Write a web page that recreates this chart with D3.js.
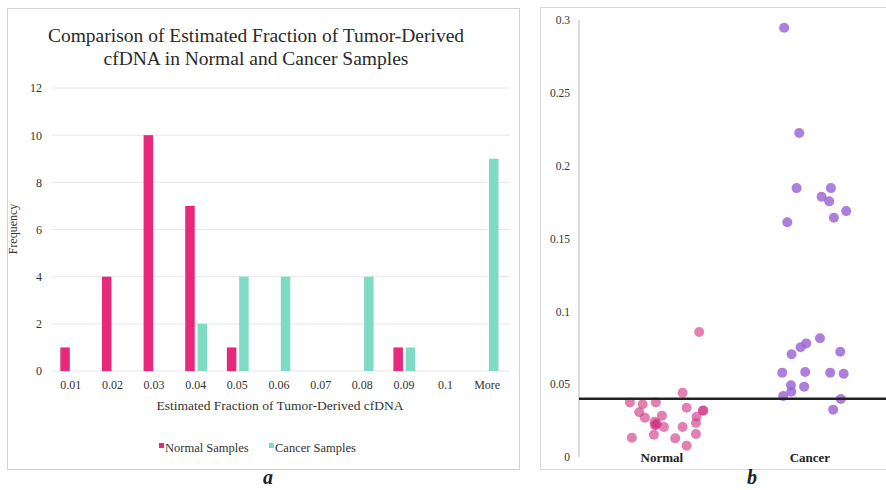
<!DOCTYPE html>
<html><head><meta charset="utf-8">
<script src="https://cdn.jsdelivr.net/npm/d3@7"></script>
<style>body{margin:0;background:#fff}svg{display:block}text{font-family:"Liberation Serif","Times New Roman",serif}</style>
</head><body><svg id="c" width="886" height="490"></svg>
<script>
// ---- Panel a data ----
const bins = ["0.01","0.02","0.03","0.04","0.05","0.06","0.07","0.08","0.09","0.1","More"];
const normalFreq = [1,4,10,7,1,0,0,0,1,0,0];
const cancerFreq = [0,0,0,2,4,4,0,4,1,0,9];
const freqTicks = [0,2,4,6,8,10,12];
const seriesNames = ["Normal Samples","Cancer Samples"];
const barColors = ["#e8287a","#7fdcc4"];

// ---- Panel b data ----
const groups = ["Normal","Cancer"];
const normalValues = [0.0858,0.0441,0.0375,0.0362,0.0375,0.0338,0.0307,0.0270,0.0284,0.0318,0.0320,0.0277,0.0242,0.0222,0.0230,0.0206,0.0206,0.0233,0.0132,0.0153,0.0128,0.0158,0.0078,0.0218];
const normalJitter = [0.252,0.140,-0.216,-0.130,-0.041,0.167,-0.153,-0.115,0.000,0.277,0.280,0.234,-0.049,-0.041,-0.034,0.014,0.140,0.230,-0.203,-0.054,0.090,0.230,0.167,-0.047];
const cancerValues = [0.2947,0.2224,0.1846,0.1846,0.1787,0.1755,0.1688,0.1643,0.1611,0.0815,0.0780,0.0753,0.0705,0.0723,0.0579,0.0583,0.0579,0.0572,0.0492,0.0483,0.0448,0.0419,0.0398,0.0325];
const cancerJitter = [-0.174,-0.072,-0.090,0.142,0.079,0.130,0.245,0.162,-0.153,0.068,-0.025,-0.063,-0.124,0.205,-0.187,-0.032,0.137,0.228,-0.128,-0.039,-0.126,-0.180,0.209,0.157];
const fracTicks = [0,0.05,0.1,0.15,0.2,0.25,0.3];
const thresholdValue = 0.04;

const SERIF = "Liberation Serif, Times New Roman, serif";
const svg = d3.select("#c");

// panel frames
svg.append("rect").attr("x",7.5).attr("y",8.5).attr("width",512).attr("height",461)
  .attr("fill","none").attr("stroke","#d2d2d2");
svg.append("rect").attr("x",540.5).attr("y",7.5).attr("width",350).attr("height",462)
  .attr("fill","none").attr("stroke","#d8d8d8");

// ===== Panel a =====
const ga = svg.append("g");
const x = d3.scaleBand().domain(bins).range([50,508]);
const y = d3.scaleLinear().domain([0,12]).range([371,88]);

ga.append("text").attr("x",256).attr("y",42).attr("text-anchor","middle")
  .attr("font-size",19.5).attr("fill","#2a2a2a").text("Comparison of Estimated Fraction of Tumor-Derived");
ga.append("text").attr("x",256).attr("y",65).attr("text-anchor","middle")
  .attr("font-size",19.5).attr("fill","#2a2a2a").text("cfDNA in Normal and Cancer Samples");

// gridlines
ga.append("g").selectAll("line").data(freqTicks).join("line")
  .attr("x1",52).attr("x2",510).attr("y1",d=>y(d)).attr("y2",d=>y(d))
  .attr("stroke","#e6e6e6").attr("stroke-width",1);

const yAx = ga.append("g").attr("transform","translate(46,0)")
  .call(d3.axisLeft(y).tickValues(freqTicks).tickSize(0).tickPadding(4));
yAx.select(".domain").remove();
yAx.selectAll("text").attr("font-family",SERIF).attr("font-size",12).attr("fill","#333");

const xAx = ga.append("g").attr("transform","translate(0,371)")
  .call(d3.axisBottom(x).tickSize(0).tickPadding(9));
xAx.select(".domain").remove();
xAx.selectAll("text").attr("font-family",SERIF).attr("font-size",12).attr("fill","#333");

const bw = 9.5;
ga.append("g").selectAll("rect").data(normalFreq).join("rect")
  .attr("x",(d,i)=>x(bins[i])+x.bandwidth()/2-bw-1).attr("width",bw)
  .attr("y",d=>y(d)).attr("height",d=>y(0)-y(d)).attr("fill",barColors[0]);
ga.append("g").selectAll("rect").data(cancerFreq).join("rect")
  .attr("x",(d,i)=>x(bins[i])+x.bandwidth()/2+1.8).attr("width",bw)
  .attr("y",d=>y(d)).attr("height",d=>y(0)-y(d)).attr("fill",barColors[1]);

ga.append("text").attr("x",280).attr("y",410).attr("text-anchor","middle")
  .attr("font-size",13.5).attr("fill","#333").text("Estimated Fraction of Tumor-Derived cfDNA");
ga.append("text").attr("transform","translate(17,229) rotate(-90)").attr("text-anchor","middle")
  .attr("font-size",12).attr("fill","#333").text("Frequency");

// legend
const legX = [159,269];
seriesNames.forEach((n,i)=>{
  ga.append("rect").attr("x",legX[i]).attr("y",443).attr("width",5).attr("height",5).attr("fill",barColors[i]);
  ga.append("text").attr("x",legX[i]+6).attr("y",452).attr("font-size",12.5).attr("fill","#333").text(n);
});

ga.append("text").attr("x",268).attr("y",484).attr("text-anchor","middle")
  .attr("font-size",20).attr("font-style","italic").attr("font-weight","bold").attr("fill","#222").text("a");

// ===== Panel b =====
const gb = svg.append("g");
const yb = d3.scaleLinear().domain([0,0.3]).range([457,20]);
const xb = d3.scaleLinear().domain([0.44,2.514]).range([579,886]);
const groupPos = {Normal:1, Cancer:2};

gb.append("line").attr("x1",579).attr("x2",579).attr("y1",20).attr("y2",457).attr("stroke","#d0d0d0").attr("stroke-width",1.5);
const ybAx = gb.append("g").attr("transform","translate(572,0)")
  .call(d3.axisLeft(yb).tickValues(fracTicks).tickFormat(d=>String(+d.toFixed(2))).tickSize(0).tickPadding(2));
ybAx.select(".domain").remove();
ybAx.selectAll("text").attr("font-family",SERIF).attr("font-size",11.5).attr("fill","#333");

gb.selectAll("text.grp").data(groups).join("text").attr("class","grp")
  .attr("x",d=>xb(groupPos[d])).attr("y",462).attr("text-anchor","middle")
  .attr("font-size",13).attr("font-weight","bold").attr("fill","#222").text(d=>d);

gb.append("g").selectAll("circle").data(normalValues).join("circle")
  .attr("cx",(d,i)=>xb(groupPos.Normal+normalJitter[i])).attr("cy",d=>yb(d)).attr("r",5)
  .attr("fill","#d23282").attr("fill-opacity",0.62);
gb.append("g").selectAll("circle").data(cancerValues).join("circle")
  .attr("cx",(d,i)=>xb(groupPos.Cancer+cancerJitter[i])).attr("cy",d=>yb(d)).attr("r",5)
  .attr("fill","#9b63d6").attr("fill-opacity",0.82);

gb.append("line").attr("x1",579).attr("x2",886).attr("y1",yb(thresholdValue)).attr("y2",yb(thresholdValue))
  .attr("stroke","#222").attr("stroke-width",2.5);

gb.append("text").attr("x",752).attr("y",484).attr("text-anchor","middle")
  .attr("font-size",20).attr("font-style","italic").attr("font-weight","bold").attr("fill","#222").text("b");
</script></body></html>
